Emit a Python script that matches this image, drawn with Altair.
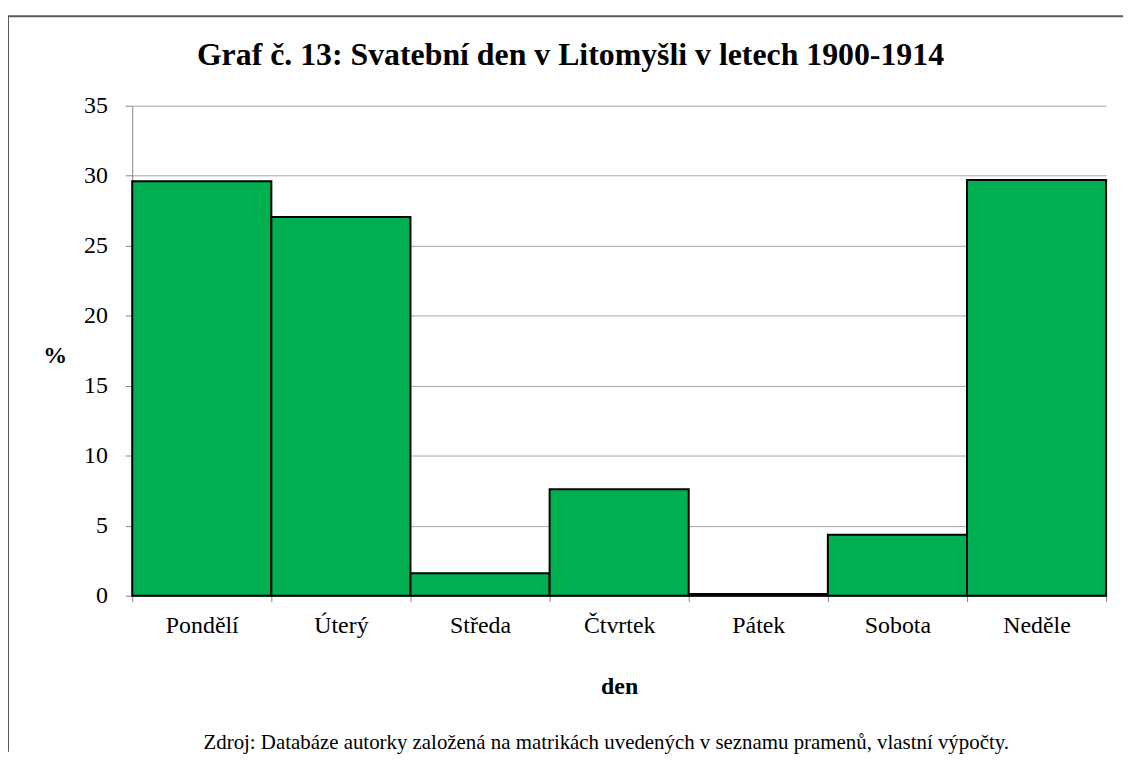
import altair as alt
import pandas as pd

days = ["Pondělí", "Úterý", "Středa", "Čtvrtek", "Pátek", "Sobota", "Neděle"]
values = [29.6, 27.05, 1.6, 7.6, 0.12, 4.35, 29.7]
title_text = "Graf č. 13: Svatební den v Litomyšli v letech 1900-1914"
source_text = "Zdroj: Databáze autorky založená na matrikách uvedených v seznamu pramenů, vlastní výpočty."
y_ticks = [0, 5, 10, 15, 20, 25, 30, 35]

df = pd.DataFrame({"den": days, "pct": values})
FONT = "Liberation Serif"

bars = alt.Chart(df).mark_bar(
    color="#00B050", stroke="black", strokeWidth=2
).encode(
    x=alt.X("den:N", sort=days,
            scale=alt.Scale(paddingInner=0, paddingOuter=0),
            axis=alt.Axis(title="den", labelAngle=0, tickBand="extent",
                          tickSize=6, labelPadding=12, labelFontSize=24,
                          labelFont=FONT, titleFont=FONT,
                          labelColor="black", titleColor="black",
                          titleFontSize=24, titleFontWeight="bold",
                          titleY=91, titleBaseline="middle",
                          domainColor="#868686", tickColor="#868686")),
    y=alt.Y("pct:Q", scale=alt.Scale(domain=[0, 35], nice=False),
            axis=alt.Axis(title="%", values=y_ticks, tickSize=7, labelPadding=18,
                          labelFontSize=24, labelFont=FONT, titleFont=FONT,
                          labelColor="black", titleColor="black",
                          titleFontSize=24, titleFontWeight="bold",
                          titleAngle=0, titleX=-78, titleY=251,
                          titleAlign="center", titleBaseline="middle",
                          domainColor="#868686", tickColor="#868686",
                          gridColor="#A6A6A6"))
)

one = pd.DataFrame({"k": [0]})
top_line = alt.Chart(one).mark_rule(color="#595959", strokeWidth=2).encode(
    x=alt.value(-126), x2=alt.value(998), y=alt.value(-90)
)
left_line = alt.Chart(one).mark_rule(color="#595959", strokeWidth=2).encode(
    x=alt.value(-125), y=alt.value(-90), y2=alt.value(650)
)
title = alt.Chart(one).mark_text(
    text=title_text, font=FONT, fontSize=32, fontWeight="bold", color="black",
    align="center", baseline="alphabetic"
).encode(x=alt.value(441), y=alt.value(-41))
source = alt.Chart(one).mark_text(
    text=source_text, font=FONT, fontSize=21, color="black", align="center", baseline="middle"
).encode(x=alt.value(477), y=alt.value(641))

chart = alt.layer(bars, top_line, left_line, title, source).properties(
    width=980, height=493,
    autosize=alt.AutoSizeParams(type="none"),
    padding={"left": 125, "top": 96, "right": 17, "bottom": 157}
).configure(font=FONT).configure_view(strokeWidth=0)

chart.save("out.html", embed_options={"renderer": "svg", "actions": False})
